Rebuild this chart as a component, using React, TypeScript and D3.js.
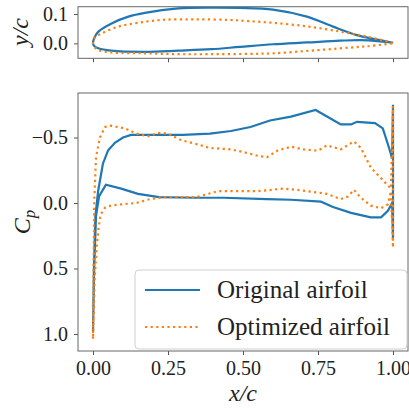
import React, { useEffect, useRef } from 'react';
import * as d3 from 'd3';

// airfoil geometry (y/c), leading edge -> trailing edge
const origFoilUpperX = [0, 0.005, 0.018, 0.062, 0.118, 0.173, 0.284, 0.395, 0.49, 0.6, 0.713, 0.8, 0.88, 0.935, 1.0];
const origFoilUpperY = [0, 0.02, 0.04, 0.068, 0.091, 0.104, 0.119, 0.122, 0.121, 0.115, 0.091, 0.057, 0.028, 0.015, 0.002];
const origFoilLowerX = [0, 0.005, 0.018, 0.06, 0.173, 0.284, 0.395, 0.49, 0.6, 0.713, 0.824, 0.89, 0.957, 1.0];
const origFoilLowerY = [0, -0.01, -0.017, -0.025, -0.029, -0.025, -0.02, -0.012, -0.003, 0.003, 0.009, 0.011, 0.007, 0.002];
const optFoilUpperX = [0, 0.005, 0.029, 0.084, 0.15, 0.229, 0.34, 0.45, 0.518, 0.6, 0.713, 0.824, 0.913, 1.0];
const optFoilUpperY = [0, 0.018, 0.034, 0.057, 0.07, 0.08, 0.082, 0.08, 0.076, 0.07, 0.058, 0.04, 0.023, 0.002];
const optFoilLowerX = [0, 0.005, 0.018, 0.06, 0.173, 0.284, 0.395, 0.518, 0.6, 0.713, 0.824, 0.913, 1.0];
const optFoilLowerY = [0, -0.012, -0.023, -0.031, -0.034, -0.037, -0.037, -0.036, -0.034, -0.026, -0.017, -0.01, 0.0];

// pressure coefficient, leading edge -> trailing edge
const origCpUpperX = [0, 0.003, 0.008, 0.017, 0.033, 0.05, 0.073, 0.1, 0.127, 0.2, 0.3, 0.39, 0.46, 0.525, 0.59, 0.66, 0.742, 0.78, 0.826, 0.86, 0.88, 0.94, 0.966, 0.987, 0.997, 1.0];
const origCpUpper = [0.98, 0.5, 0.1, -0.09, -0.3, -0.4, -0.46, -0.5, -0.52, -0.52, -0.52, -0.53, -0.55, -0.58, -0.63, -0.66, -0.71, -0.66, -0.6, -0.6, -0.62, -0.61, -0.57, -0.42, -0.34, -0.75];
const origCpLowerX = [0, 0.004, 0.01, 0.02, 0.043, 0.094, 0.15, 0.22, 0.345, 0.435, 0.58, 0.66, 0.76, 0.8, 0.86, 0.926, 0.96, 0.983, 0.997, 1.0];
const origCpLower = [0.98, 0.5, 0.1, -0.05, -0.14, -0.11, -0.07, -0.045, -0.04, -0.04, -0.03, -0.025, -0.01, 0.03, 0.075, 0.11, 0.11, 0.06, 0.0, 0.27];
const optCpUpperX = [0, 0.002, 0.004, 0.01, 0.023, 0.04, 0.06, 0.107, 0.144, 0.184, 0.217, 0.25, 0.294, 0.345, 0.39, 0.458, 0.5, 0.55, 0.58, 0.615, 0.66, 0.7, 0.75, 0.78, 0.826, 0.87, 0.893, 0.926, 0.96, 0.993, 1.0];
const optCpUpper = [1.04, 0.5, 0.0, -0.35, -0.5, -0.58, -0.59, -0.57, -0.53, -0.51, -0.535, -0.53, -0.48, -0.45, -0.42, -0.41, -0.39, -0.36, -0.35, -0.4, -0.43, -0.41, -0.4, -0.44, -0.41, -0.47, -0.42, -0.27, -0.19, -0.11, -0.74];
const optCpLowerX = [0, 0.005, 0.012, 0.018, 0.025, 0.04, 0.06, 0.094, 0.144, 0.19, 0.24, 0.345, 0.415, 0.55, 0.635, 0.68, 0.75, 0.78, 0.826, 0.85, 0.87, 0.893, 0.926, 0.96, 0.983, 0.993, 1.0];
const optCpLower = [1.04, 0.6, 0.35, 0.2, 0.09, 0.035, 0.02, 0.01, 0.0, -0.03, -0.045, -0.045, -0.09, -0.09, -0.11, -0.1, -0.08, -0.07, -0.03, -0.05, -0.1, -0.04, 0.02, 0.04, 0.01, -0.09, 0.34];

const xTicks = [0, 0.25, 0.5, 0.75, 1.0];
const foilTicks = [0, 0.1];
const cpTicks = [-0.5, 0, 0.5, 1.0];
const seriesLabels = ['Original airfoil', 'Optimized airfoil'];
const colors = ['#1f77b4', '#ff7f0e'];

const FONT = '"Liberation Serif", "DejaVu Serif", serif';

// go around the section: upper surface TE->LE, then lower LE->TE
const loop = (ux: number[], uy: number[], lx: number[], ly: number[]): [number, number][] => {
  const up = ux.map((v, i) => [v, uy[i]] as [number, number]).reverse();
  const lo = lx.map((v, i) => [v, ly[i]] as [number, number]);
  return up.concat(lo.slice(1));
};

export default function App() {
  const svgRef = useRef<SVGSVGElement>(null);

  useEffect(() => {
    document.body.style.margin = '0';
    const svg = d3.select(svgRef.current).html(null);
    const left = 78;
    const right = 408;

    const x = d3.scaleLinear().domain([-0.05, 1.05]).range([left, right]);
    const yFoil = d3.scaleLinear().domain([-0.051, 0.125]).range([58.3, 6.7]);
    const yCp = d3.scaleLinear().domain([-0.84, 1.13]).range([93, 351]);

    const drawPanel = (y: d3.ScaleLinear<number, number>, yTicks: number[], fmt: string, id: string, labels: boolean) => {
      const bottom = Math.max(...y.range());
      const top = Math.min(...y.range());
      svg.append('clipPath').attr('id', id)
        .append('rect').attr('x', left).attr('y', top).attr('width', right - left).attr('height', bottom - top);

      const ax = svg.append('g').attr('transform', `translate(0,${bottom})`)
        .call(d3.axisBottom(x).tickValues(xTicks).tickSize(4).tickPadding(6)
          .tickFormat(labels ? (d3.format('.2f') as any) : () => ''));
      const ay = svg.append('g').attr('transform', `translate(${left},0)`)
        .call(d3.axisLeft(y).tickValues(yTicks).tickSize(4).tickPadding(6).tickFormat(d3.format(fmt) as any));
      [ax, ay].forEach((g) => {
        g.attr('font-family', FONT).attr('font-size', 20);
        g.select('.domain').remove();
        g.selectAll('line').attr('stroke', '#555').attr('stroke-width', 1);
        g.selectAll('text').attr('fill', '#222').style('font-family', FONT).style('font-size', '20px');
      });

      svg.append('rect').attr('x', left).attr('y', top).attr('width', right - left).attr('height', bottom - top)
        .attr('fill', 'none').attr('stroke', '#666').attr('stroke-width', 1);
    };

    drawPanel(yFoil, foilTicks, '.1f', 'clipFoil', false);
    drawPanel(yCp, cpTicks, '.1f', 'clipCp', true);

    const foilLine = d3.line<[number, number]>().x((d) => x(d[0])).y((d) => yFoil(d[1])).curve(d3.curveCatmullRom);
    const cpLine = d3.line<[number, number]>().x((d) => x(d[0])).y((d) => yCp(d[1])).curve(d3.curveLinearClosed);

    const foils = [
      loop(origFoilUpperX, origFoilUpperY, origFoilLowerX, origFoilLowerY),
      loop(optFoilUpperX, optFoilUpperY, optFoilLowerX, optFoilLowerY),
    ];
    const cps = [
      loop(origCpUpperX, origCpUpper, origCpLowerX, origCpLower),
      loop(optCpUpperX, optCpUpper, optCpLowerX, optCpLower),
    ];

    const style = (p: d3.Selection<SVGPathElement, unknown, null, undefined>, i: number) => {
      p.attr('fill', 'none').attr('stroke', colors[i]).attr('stroke-width', 2.2);
      if (i === 1) p.attr('stroke-dasharray', '2.2,3.4');
    };

    foils.forEach((d, i) => {
      svg.append('path').attr('clip-path', 'url(#clipFoil)').attr('d', foilLine(d)).call(style, i);
    });
    cps.forEach((d, i) => {
      svg.append('path').attr('clip-path', 'url(#clipCp)').attr('d', cpLine(d)).call(style, i);
    });

    // legend
    const lg = svg.append('g');
    lg.append('rect').attr('x', 135).attr('y', 270).attr('width', 272).attr('height', 79).attr('rx', 4)
      .attr('fill', 'white').attr('fill-opacity', 0.85).attr('stroke', '#d0d0d0');
    seriesLabels.forEach((label, i) => {
      const cy = 290 + i * 37;
      const l = lg.append('path').attr('d', `M145,${cy}H200`);
      style(l as any, i);
      lg.append('text').attr('x', 217).attr('y', cy + 8).text(label)
        .attr('fill', '#222').style('font-family', FONT).style('font-size', '25px');
    });

    // axis labels
    const lab = (t: d3.Selection<SVGTextElement, unknown, null, undefined>) =>
      t.attr('fill', '#222').style('font-family', FONT).style('font-size', '24px').style('font-style', 'italic');
    svg.append('text').attr('x', 243).attr('y', 401).attr('text-anchor', 'middle').text('x/c').call(lab);
    svg.append('text').attr('transform', 'translate(28,32) rotate(-90)').attr('text-anchor', 'middle').text('y/c').call(lab);
    const cp = svg.append('text').attr('transform', 'translate(30,222) rotate(-90)').attr('text-anchor', 'middle').call(lab);
    cp.append('tspan').text('C');
    cp.append('tspan').attr('dy', 5).style('font-size', '17px').text('p');
  }, []);

  return <svg ref={svgRef} width={409} height={409} style={{ display: 'block', background: 'white' }} />;
}
